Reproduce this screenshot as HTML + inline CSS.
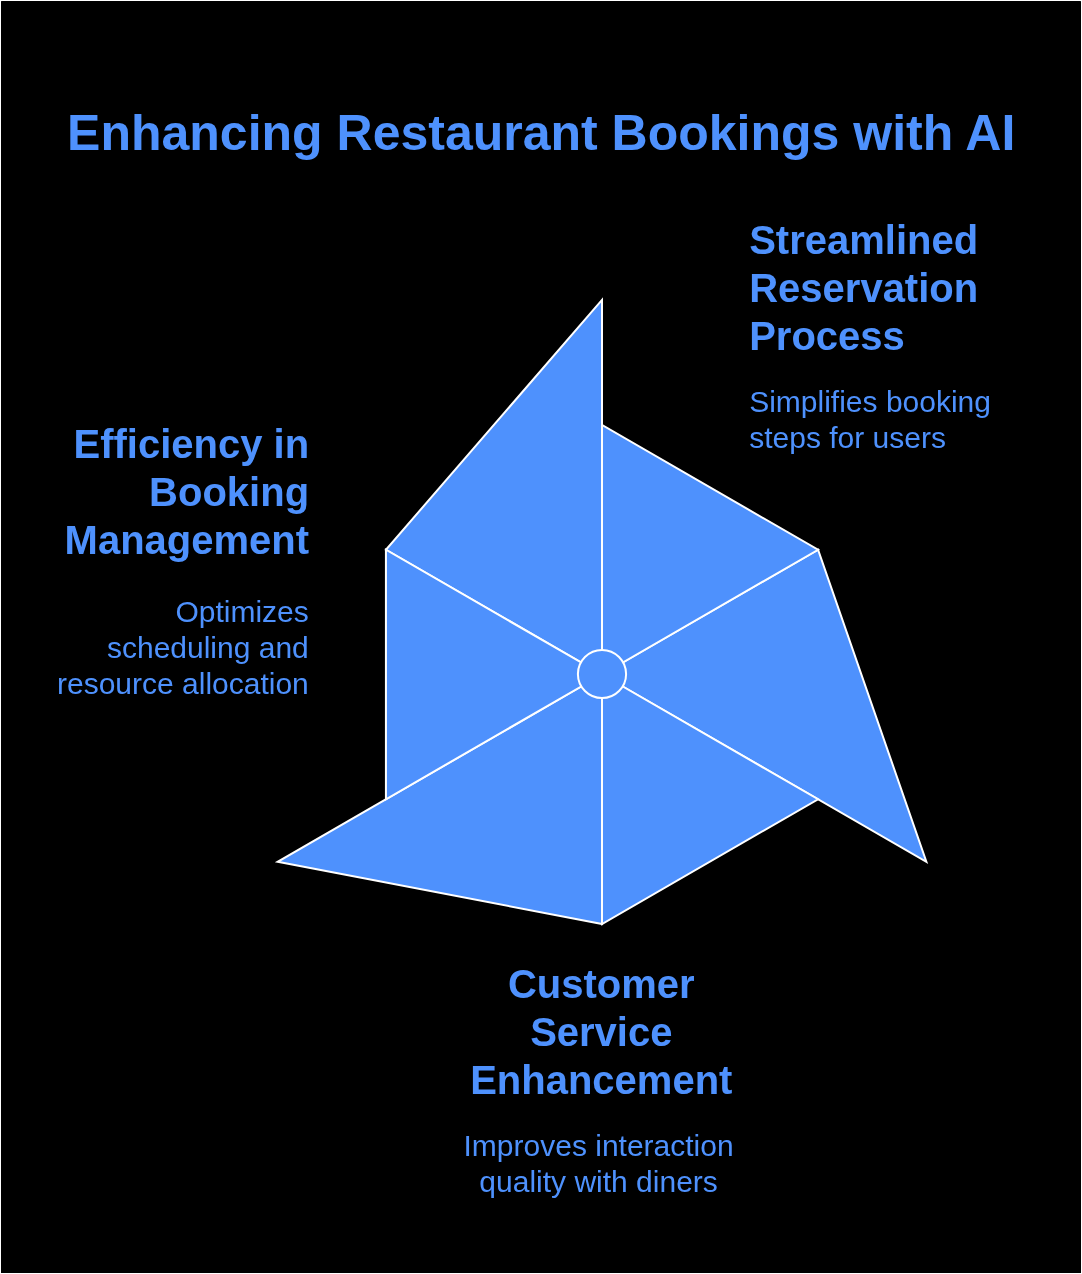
<!DOCTYPE html>
<html lang="en">
<head>
<meta charset="utf-8">
<title>Enhancing Restaurant Bookings with AI</title>
<style>
  html, body { margin: 0; padding: 0; background: #ffffff; }
  body { width: 1082px; height: 1274px; overflow: hidden; }
  svg { display: block; will-change: transform; }
  text { font-family: "Liberation Sans", Arial, Helvetica, sans-serif; fill: #4E91FD; }
  .t { font-size: 50px; font-weight: bold; }
  .h { font-size: 40px; font-weight: bold; }
  .b { font-size: 30px; font-weight: normal; }
  .shapes polygon, .shapes circle { fill: #4E91FD; stroke: #ffffff; stroke-width: 2; stroke-linejoin: miter; }
</style>
</head>
<body>
<svg width="1082" height="1274" viewBox="0 0 1082 1274">
  <rect x="0" y="0" width="1082" height="1274" fill="#ffffff"/>
  <rect x="1" y="1" width="1080" height="1272" rx="0.6" ry="0.6" fill="#000000"/>
  <text class="t" x="541.2" y="150" text-anchor="middle">Enhancing Restaurant Bookings with AI</text>
  <g class="shapes">
    <polygon points="602.00,674.50 385.93,549.75 602.00,299.95"/>
    <polygon points="602.00,674.50 818.07,549.75 926.37,861.77"/>
    <polygon points="602.00,674.50 602.00,924.00 277.63,861.77"/>
    <polygon points="602.00,674.50 602.00,425.00 818.07,549.75"/>
    <polygon points="602.00,674.50 818.07,799.25 602.00,924.00"/>
    <polygon points="602.00,674.50 385.93,799.25 385.93,549.75"/>
    <circle cx="602.0" cy="674.0" r="24.1"/>
  </g>
  <g>
    <text class="h" x="749.2" y="254" text-anchor="start">Streamlined</text>
    <text class="h" x="749.2" y="302" text-anchor="start">Reservation</text>
    <text class="h" x="749.2" y="350" text-anchor="start">Process</text>
    <text class="b" x="749.2" y="411.5" text-anchor="start">Simplifies booking</text>
    <text class="b" x="749.2" y="447.5" text-anchor="start">steps for users</text>
  </g>
  <g>
    <text class="h" x="309.1" y="458" text-anchor="end">Efficiency in</text>
    <text class="h" x="309.1" y="506" text-anchor="end">Booking</text>
    <text class="h" x="309.1" y="554" text-anchor="end">Management</text>
    <text class="b" x="308.8" y="621.5" text-anchor="end">Optimizes</text>
    <text class="b" x="308.8" y="657.5" text-anchor="end">scheduling and</text>
    <text class="b" x="308.8" y="693.5" text-anchor="end">resource allocation</text>
  </g>
  <g>
    <text class="h" x="601.3" y="998" text-anchor="middle">Customer</text>
    <text class="h" x="601.3" y="1046" text-anchor="middle">Service</text>
    <text class="h" x="601.3" y="1094" text-anchor="middle">Enhancement</text>
    <text class="b" x="598.6" y="1155.5" text-anchor="middle">Improves interaction</text>
    <text class="b" x="598.6" y="1191.5" text-anchor="middle">quality with diners</text>
  </g>
</svg>
</body>
</html>
